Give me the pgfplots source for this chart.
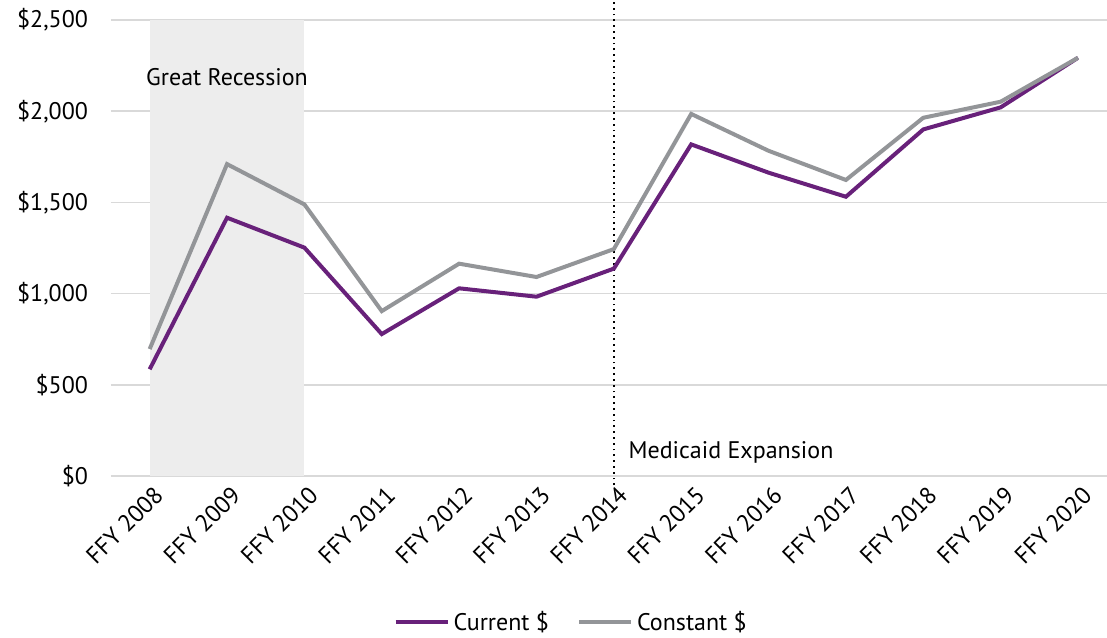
\documentclass[border=0pt]{standalone}
\usepackage{pgfplots}
\pgfplotsset{compat=1.18}
\usepackage{fontspec}
\setmainfont{PT Sans}
\definecolor{curr}{HTML}{68217A}
\definecolor{const}{HTML}{939598}
\definecolor{shade}{HTML}{EDEDED}
\definecolor{gridc}{HTML}{D9D9D9}
\begin{document}
\begin{tikzpicture}
\begin{axis}[
  scale only axis,
  width=498pt, height=228pt,
  xmin=-0.5, xmax=12.375,
  ymin=0, ymax=2500,
  ytick={0,500,1000,1500,2000,2500},
  yticklabels={{\$0},{\$500},{\$1,000},{\$1,500},{\$2,000},{\$2,500}},
  xtick={0,...,12},
  xticklabels={FFY 2008,FFY 2009,FFY 2010,FFY 2011,FFY 2012,FFY 2013,FFY 2014,FFY 2015,FFY 2016,FFY 2017,FFY 2018,FFY 2019,FFY 2020},
  xticklabel style={rotate=45, anchor=east, xshift=1.5pt, yshift=-8.5pt, font=\fontsize{12}{14}\selectfont},
  yticklabel style={font=\fontsize{12}{14}\selectfont, xshift=-8pt},
  axis line style={draw=none},
  major tick style={draw=none},
  ymajorgrids,
  grid style={gridc, line width=0.75pt},
  clip=false,
  legend columns=2,
  legend style={at={(0.463,-0.32)}, anchor=center, draw=none, font=\fontsize{12}{14}\selectfont, /tikz/every even column/.append style={column sep=12pt}},
  legend cell align=left,
  legend image code/.code={\draw[#1, line width=2pt] (0pt,0pt) -- (26pt,0pt);},
]
\addplot[fill=shade, draw=none, forget plot] coordinates {(0,0) (2,0) (2,2500) (0,2500)} -- cycle;
\addplot[black, line width=0.9pt, dotted, forget plot] coordinates {(6,-50) (6,2610)};
\addplot[curr, line width=2pt] coordinates {
(0,585) (1,1416) (2,1252) (3,778) (4,1029) (5,983) (6,1137) (7,1818) (8,1663) (9,1531) (10,1900) (11,2021) (12,2293)};
\addlegendentry{Current \$}
\addplot[const, line width=2pt] coordinates {
(0,696) (1,1710) (2,1489) (3,904) (4,1164) (5,1091) (6,1244) (7,1985) (8,1783) (9,1623) (10,1964) (11,2052) (12,2293)};
\addlegendentry{Constant \$}
\node[font=\fontsize{12}{14}\selectfont] at (axis cs:1,2187) {Great Recession};
\node[font=\fontsize{12}{14}\selectfont, anchor=west] at (axis cs:6.1,131) {Medicaid Expansion};
\end{axis}
\pgfresetboundingbox
\path ([xshift=-55.5pt,yshift=10pt]current axis.north west) rectangle ([yshift=-80.5pt]current axis.south east);
\end{tikzpicture}
\end{document}
